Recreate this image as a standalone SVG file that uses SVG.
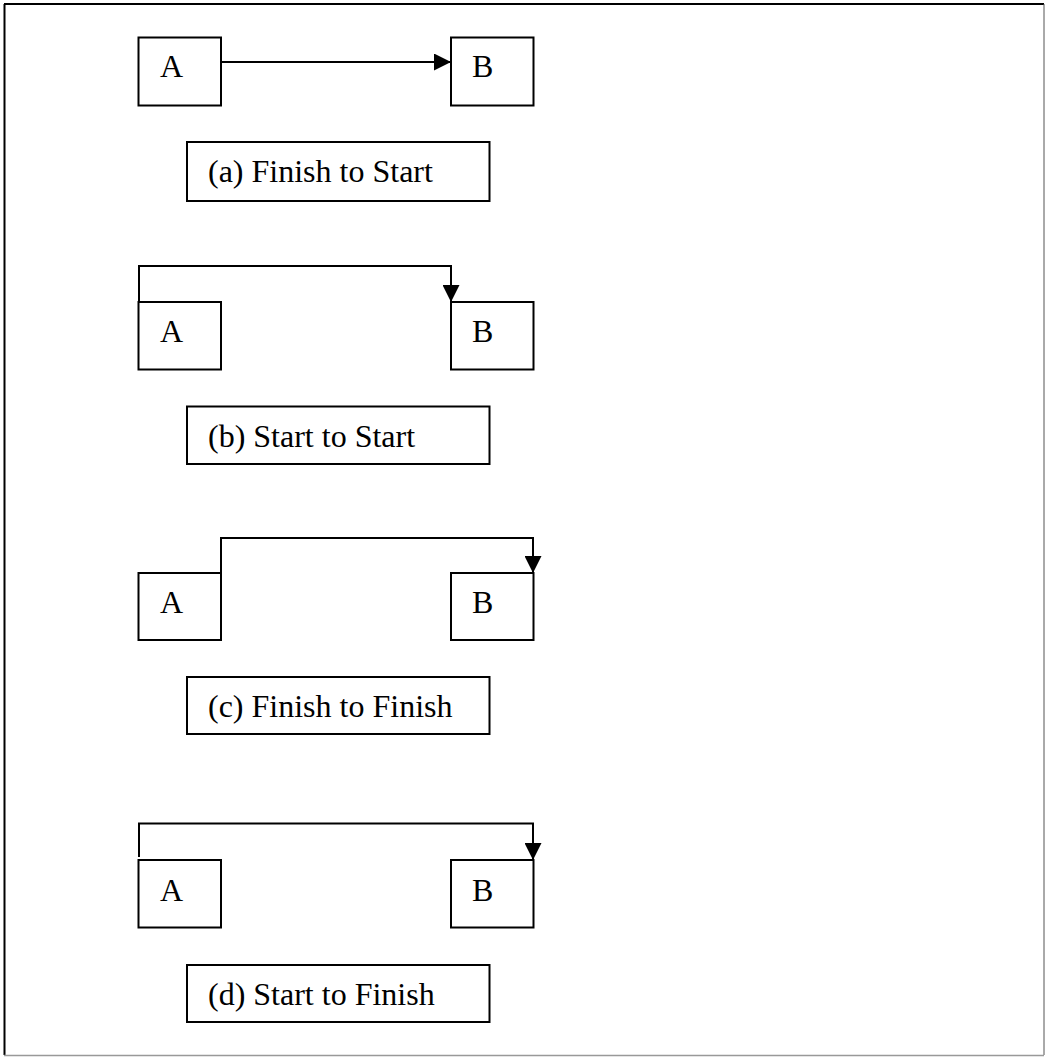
<svg xmlns="http://www.w3.org/2000/svg" width="1045" height="1057" viewBox="0 0 1045 1057">
  <style>
    .box { fill: #ffffff; stroke: #000000; stroke-width: 2; }
    .lbl { fill: #ffffff; stroke: #000000; stroke-width: 2; }
    .t { font-family: "Liberation Serif", "Times New Roman", serif; font-size: 32px; fill: #000000; }
    .conn { fill: none; stroke: #000000; stroke-width: 2; }
  </style>
  <defs>
    <marker id="arr" markerUnits="userSpaceOnUse" markerWidth="17" markerHeight="17" viewBox="0 0 16 16" refX="16" refY="8" orient="auto">
      <path d="M0,0 L16,8 L0,16 Z" fill="#000000"/>
    </marker>
  </defs>
  <rect x="0" y="0" width="1045" height="1057" fill="#ffffff"/>
  <g id="frame">
    <line x1="4" y1="4" x2="1044" y2="4" stroke="#000000" stroke-width="2"/>
    <line x1="4.5" y1="4" x2="4.5" y2="1055" stroke="#000000" stroke-width="2"/>
    <line x1="1044" y1="4" x2="1044" y2="1055" stroke="#555555" stroke-width="1"/>
    <line x1="4" y1="1055.5" x2="1044" y2="1055.5" stroke="#999999" stroke-width="1.5"/>
  </g>

  <g id="connectors">
    <path class="conn" d="M221,62 L451,62" marker-end="url(#arr)"/>
    <path class="conn" d="M139,302 L139,266 L451,266 L451,302" marker-end="url(#arr)"/>
    <path class="conn" d="M221,573 L221,538 L533,538 L533,573" marker-end="url(#arr)"/>
    <path class="conn" d="M139,857 L139,823.5 L533,823.5 L533,860" marker-end="url(#arr)"/>
  </g>

  <g id="a-A"><rect class="box" x="138.5" y="37.5" width="82.5" height="68"/><text class="t" x="160" y="77">A</text></g>
  <g id="a-B"><rect class="box" x="451" y="37.5" width="82.5" height="68"/><text class="t" x="472" y="77">B</text></g>
  <g id="a-label"><rect class="lbl" x="187" y="142" width="302.5" height="59"/><text class="t" x="208" y="182">(a) Finish to Start</text></g>

  <g id="b-A"><rect class="box" x="138.5" y="302" width="82.5" height="67.5"/><text class="t" x="160" y="342">A</text></g>
  <g id="b-B"><rect class="box" x="451" y="302" width="82.5" height="67.5"/><text class="t" x="472" y="342">B</text></g>
  <g id="b-label"><rect class="lbl" x="187" y="406.5" width="302.5" height="57.5"/><text class="t" x="208" y="446.5">(b) Start to Start</text></g>

  <g id="c-A"><rect class="box" x="138.5" y="573" width="82.5" height="67"/><text class="t" x="160" y="612.5">A</text></g>
  <g id="c-B"><rect class="box" x="451" y="573" width="82.5" height="67"/><text class="t" x="472" y="612.5">B</text></g>
  <g id="c-label"><rect class="lbl" x="187" y="677" width="302.5" height="57"/><text class="t" x="208" y="717">(c) Finish to Finish</text></g>

  <g id="d-A"><rect class="box" x="138.5" y="860" width="82.5" height="67.5"/><text class="t" x="160" y="900.5">A</text></g>
  <g id="d-B"><rect class="box" x="451" y="860" width="82.5" height="67.5"/><text class="t" x="472" y="900.5">B</text></g>
  <g id="d-label"><rect class="lbl" x="187" y="965" width="302.5" height="57"/><text class="t" x="208" y="1005">(d) Start to Finish</text></g>
</svg>
